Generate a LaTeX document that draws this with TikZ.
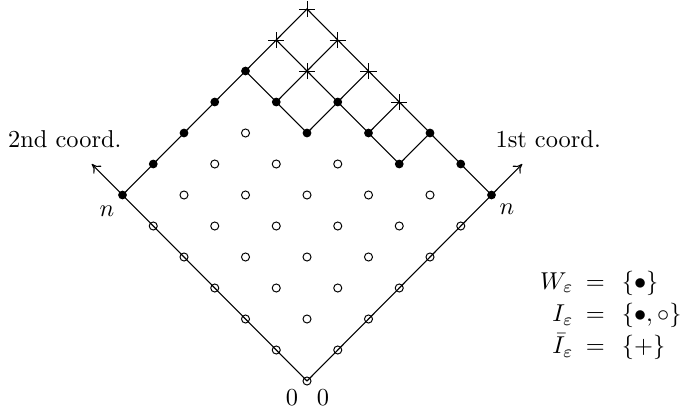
\documentclass[tikz,border=0pt]{standalone}
\usetikzlibrary{shapes.misc,arrows.meta}
\begin{document}
\begin{tikzpicture}[x=0.41pt,y=-0.41pt, line width=0.45pt,
  opendot/.style={circle,draw,fill=none,inner sep=0pt,minimum size=3.3pt,line width=0.4pt},
  fulldot/.style={circle,fill=black,inner sep=0pt,minimum size=3.6pt},
  plusmark/.style={cross out,draw,rotate=45,inner sep=0pt,minimum size=4.3pt,line width=0.4pt},
  axisarrow/.style={-{To[length=3.5pt,width=4.5pt]}},
  lbl/.style={inner sep=0pt,font=\normalsize}]
\useasboundingbox (0,0) rectangle (684,412);
\begin{scope}[shift={(307,381)}, x={(12.6075pt,12.71pt)}, y={(-12.6075pt,12.71pt)}]
  \foreach \i in {0,...,6}{\foreach \j in {0,...,6}{\coordinate (c-\i-\j) at (\i,\j);}}
  \coordinate (tip1) at (7,0);
  \coordinate (tip2) at (0,7);
\end{scope}
% connectors
\draw[axisarrow] (c-0-0) -- (tip1);
\draw[axisarrow] (c-0-0) -- (tip2);
\draw (c-0-6) -- (c-6-6) -- (c-6-0);
\draw (c-4-6) -- (c-4-4) -- (c-6-4);
\draw (c-5-6) -- (c-5-2) -- (c-6-2);
\draw (c-4-5) -- (c-6-5);
\draw (c-5-3) -- (c-6-3);
% markers
\foreach \i/\j in {0/0,1/0,2/0,3/0,4/0,5/0,0/1,0/2,0/3,0/4,0/5,
  1/1,1/2,2/1,1/3,2/2,3/1,1/4,2/3,3/2,4/1,1/5,2/4,3/3,4/2,5/1,2/5,3/4,4/3,3/5}
  {\node[opendot] (m-\i-\j) at (c-\i-\j) {};}
\foreach \i/\j in {0/6,6/0,1/6,5/2,6/1,2/6,4/4,5/3,6/2,3/6,4/5,5/4,4/6}
  {\node[fulldot] (m-\i-\j) at (c-\i-\j) {};}
\foreach \i/\j in {6/3,5/5,6/4,5/6,6/5,6/6}
  {\node[plusmark] (m-\i-\j) at (c-\i-\j) {};}
% labels
\node[lbl] (zero2) at (292,398) {$0$};
\node[lbl] (zero1) at (323,398) {$0$};
\node[lbl] (n2) at (107,211) {$n$};
\node[lbl] (n1) at (507,209) {$n$};
\node[lbl,anchor=base east] (ax2) at (122,147) {2nd coord.};
\node[lbl,anchor=base west] (ax1) at (495,147) {1st coord.};
\node[lbl,anchor=east] (legend) at (682,315)
  {\renewcommand{\arraystretch}{1.1}$\begin{array}{@{}r@{\hspace{5pt}}c@{\hspace{7pt}}l@{}}
    W_\varepsilon & = & \{\bullet\}\\
    I_\varepsilon & = & \{\bullet,\circ\}\\
    \bar{I}_\varepsilon & = & \{+\}
  \end{array}$};
\end{tikzpicture}
\end{document}
